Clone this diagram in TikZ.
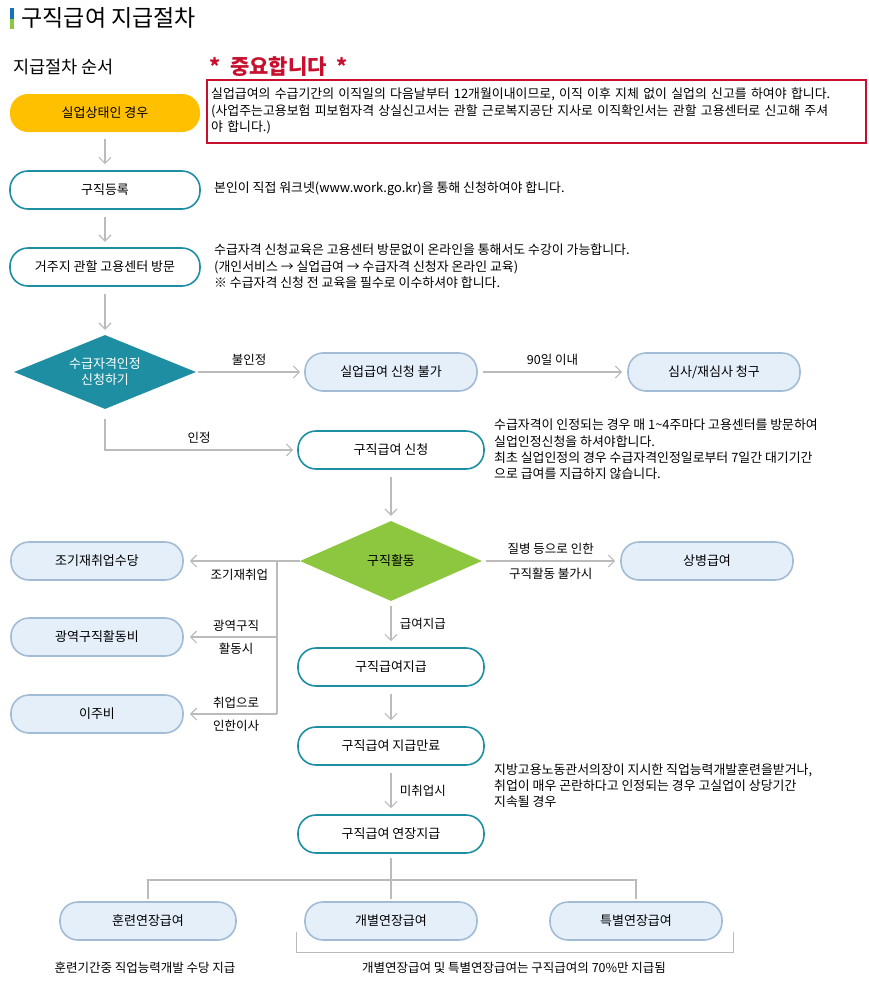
\documentclass[tikz,border=0pt]{standalone}
\usepackage{fontspec}
\setmainfont{Noto Sans CJK KR}
\usetikzlibrary{shapes.geometric,arrows.meta,calc}
\definecolor{teal}{HTML}{1E8FA3}
\definecolor{lb}{HTML}{E4EFF9}
\definecolor{lbb}{HTML}{A3BCD6}
\definecolor{arr}{HTML}{BBBBBB}
\definecolor{yel}{HTML}{FFC000}
\definecolor{grn}{HTML}{8DC63F}
\definecolor{red1}{HTML}{C8102E}
\tikzset{
 pill/.style={rounded corners=18pt,minimum width=190pt,minimum height=38pt,font=\fontsize{13}{15}\selectfont,inner sep=0pt},
 tpill/.style={pill,draw=teal,line width=1.6pt,fill=white},
 bpill/.style={pill,draw=lbb,line width=1.6pt,fill=lb,minimum width=172pt},
 dia/.style={diamond,aspect=2.3,inner sep=0pt,minimum width=182pt,minimum height=74pt,font=\fontsize{13}{16}\selectfont,align=center},
 ar/.style={draw=arr,line width=1.2pt,-{Straight Barb[length=6pt,width=12pt]}},
 ln/.style={draw=arr,line width=1.2pt},
 lab/.style={font=\fontsize{12.5}{14}\selectfont},
 note/.style={font=\fontsize{12.9}{16.3}\selectfont,anchor=north west,align=left,inner sep=0pt},
}
\begin{document}
\begin{tikzpicture}[x=1pt,y=-1pt]
\useasboundingbox (0,0) rectangle (868,1004);
\fill[teal!80!blue] (10,8) rectangle (14,19);
\fill[grn] (10,19) rectangle (14,29);
\node[anchor=west,font=\fontsize{23}{25}\selectfont] (title) at (18,18) {구직급여 지급절차};
\node[anchor=west,font=\fontsize{17.5}{20}\selectfont] (sub) at (10,67) {지급절차 순서};
\node[anchor=west,text=red1,font=\bfseries\fontsize{21}{22}\selectfont] (imp) at (206,67) {*\ \ 중요합니다\ \ *};
\draw[red1,line width=1.3pt] (207,80) rectangle (866,143);
\node[note,text width=655pt] (rn) at (211,88) {실업급여의 수급기간의 이직일의 다음날부터 12개월이내이므로, 이직 이후 지체 없이 실업의 신고를 하여야 합니다.\\(사업주는고용보험 피보험자격 상실신고서는 관할 근로복지공단 지사로 이직확인서는 관할 고용센터로 신고해 주셔\\야 합니다.)};

\node[pill,fill=yel] (a) at (105,113) {실업상태인 경우};
\node[tpill] (b) at (105,190) {구직등록};
\node[tpill] (c) at (105,267) {거주지 관할 고용센터 방문};
\node[dia,fill=teal,text=white] (d) at (105,372) {수급자격인정\\신청하기};
\node[bpill] (e) at (391,372) {실업급여 신청 불가};
\node[bpill] (f) at (714,372) {심사/재심사 청구};
\node[tpill,minimum width=186pt] (g) at (391,450) {구직급여 신청};
\node[dia,fill=grn,minimum height=80pt] (h) at (391,561) {구직활동};
\node[bpill] (i) at (97,561) {조기재취업수당};
\node[bpill] (j) at (707,561) {상병급여};
\node[bpill] (k) at (97,637) {광역구직활동비};
\node[bpill] (l) at (97,714) {이주비};
\node[tpill,minimum width=186pt] (m) at (391,667) {구직급여지급};
\node[tpill,minimum width=186pt] (n) at (391,746) {구직급여 지급만료};
\node[tpill,minimum width=186pt] (o) at (391,834) {구직급여 연장지급};
\node[bpill,minimum width=176pt] (p) at (148,921) {훈련연장급여};
\node[bpill] (q) at (391,921) {개별연장급여};
\node[bpill] (r) at (636,921) {특별연장급여};

\node[note] (n1) at (214,182) {본인이 직접 워크넷(www.work.go.kr)을 통해 신청하여야 합니다.};
\node[note] (n2) at (214,244) {수급자격 신청교육은 고용센터 방문없이 온라인을 통해서도 수강이 가능합니다.\\(개인서비스 → 실업급여 → 수급자격 신청자 온라인 교육)\\※ 수급자격 신청 전 교육을 필수로 이수하셔야 합니다.};
\node[note] (n3) at (494,419) {수급자격이 인정되는 경우 매 1\textasciitilde 4주마다 고용센터를 방문하여\\실업인정신청을 하셔야합니다.\\최초 실업인정의 경우 수급자격인정일로부터 7일간 대기기간\\으로 급여를 지급하지 않습니다.};
\node[note] (n4) at (494,763) {지방고용노동관서의장이 지시한 직업능력개발훈련을받거나,\\취업이 매우 곤란하다고 인정되는 경우 고실업이 상당기간\\지속될 경우};
\node[lab] (t1) at (145,968) {훈련기간중 직업능력개발 수당 지급};
\node[lab] (t2) at (514,968) {개별연장급여 및 특별연장급여는 구직급여의 70\%만 지급됨};

\draw[ar] (a.south) ++(0,7) -- ++(0,25);
\draw[ar] (b.south) ++(0,7) -- ++(0,25);
\draw[ar] (c.south) ++(0,7) -- ++(0,36);
\draw[ar] (d.east) ++(2,0) -- node[lab,above=3pt]{불인정} ($(e.west)+(-4,0)$);
\draw[ar] (e.east) ++(5,0) -- node[lab,above=3pt]{90일 이내} ($(f.west)+(-5,0)$);
\draw[ar] (d.south) ++(0,10) |- node[lab,pos=0.75,above=3pt]{인정} ($(g.west)+(-4,0)$);
\draw[ar] (g.south) ++(0,7) -- ($(h.north)+(0,-5)$);
\draw[ar] (h.west) -- node[lab,pos=0.55,below=4pt]{조기재취업} ($(i.east)+(6,0)$);
\coordinate (v1) at (277,561);
\coordinate (v2) at (277,637);
\coordinate (v3) at (277,714);
\draw[ln] (v1) -- (v3);
\draw[ar] (v2) -- node[lab,pos=0.47,above=2pt]{광역구직} node[lab,pos=0.47,below=2pt]{활동시} ($(k.east)+(6,0)$);
\draw[ar] (v3) -- node[lab,pos=0.47,above=2pt]{취업으로} node[lab,pos=0.47,below=2pt]{인한이사} ($(l.east)+(6,0)$);
\draw[ar] (h.east) ++(4,0) -- node[lab,above=3pt]{질병 등으로 인한} node[lab,below=3pt]{구직활동 불가시} ($(j.west)+(-5,0)$);
\draw[ar] (h.south) ++(0,5) -- node[lab,right=5pt]{급여지급} ($(m.north)+(0,-6)$);
\draw[ar] (m.south) ++(0,7) -- ($(n.north)+(0,-6)$);
\draw[ar] (n.south) ++(0,7) -- node[lab,right=5pt]{미취업시} ($(o.north)+(0,-6)$);
\coordinate (hb) at (391,880);
\draw[ln] (o.south) ++(0,4) -- (hb);
\draw[ln] (p.north) ++(0,-2) |- (hb) -| ($(r.north)+(0,-2)$);
\draw[ln] (hb) -- ($(q.north)+(0,-2)$);
\draw[ln,line width=0.8pt] (296,932) -- (296,952) -- (733,952) -- (733,932);
\end{tikzpicture}
\end{document}
